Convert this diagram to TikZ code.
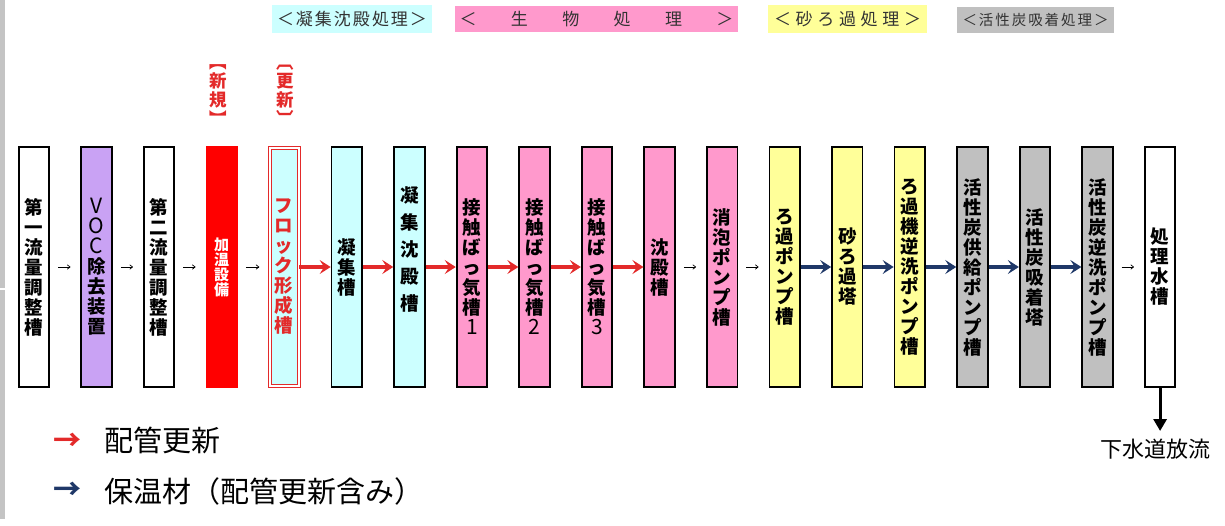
\documentclass[tikz,border=0pt]{standalone}
\usepackage{fontspec}
\newfontfamily\jp{Noto Sans CJK JP}
\usetikzlibrary{arrows.meta}
\definecolor{cyanbox}{HTML}{CCFFFF}
\definecolor{pinkbox}{HTML}{FF99CC}
\definecolor{yellowbox}{HTML}{FFFF99}
\definecolor{graybox}{HTML}{C0C0C0}
\definecolor{lavbox}{HTML}{C9A2F4}
\definecolor{arrred}{HTML}{E32A2A}
\definecolor{arrnavy}{HTML}{1F3868}
\definecolor{headtext}{HTML}{333333}
\definecolor{framegray}{HTML}{C4C4C4}
\newcommand{\lat}[1]{{\mdseries\fontsize{21}{20}\selectfont #1}}
\begin{document}
\begin{tikzpicture}[x=1pt,y=-1pt,
  box/.style={draw=black,line width=1.8pt,minimum width=30.5pt,minimum height=240pt,inner sep=0pt,align=center,font=\jp\bfseries\fontsize{18.5}{20}\selectfont},
  redbox/.style={box,draw=red,fill=red,text=white,font=\jp\bfseries\fontsize{15}{15}\selectfont},
  newbox/.style={box,draw=arrred,line width=0.9pt,double=white,double distance=1.8pt,fill=cyanbox,text=arrred,minimum width=29pt,minimum height=238pt},
  header/.style={inner sep=0pt,text=headtext,font=\jp\fontsize{17}{17}\selectfont},
  smallarr/.style={-{To[length=3.5pt,width=5pt]},line width=0.7pt,shorten <=8pt,shorten >=10pt},
  redarr/.style={draw=arrred,line width=3.2pt,-{Stealth[length=11pt,width=14pt,inset=4.5pt]}},
  navyarr/.style={draw=arrnavy,line width=3.2pt,-{Stealth[length=11pt,width=14pt,inset=4.5pt]}},
  downarr/.style={line width=3.2pt,-{Triangle[length=12pt,width=13pt]}},
  tag/.style={text=arrred,align=center,inner sep=0pt,font=\jp\bfseries\fontsize{17.5}{19}\selectfont},
  legend/.style={anchor=west,inner sep=0pt,font=\jp\fontsize{29}{30}\selectfont}
]
\useasboundingbox (0,0) rectangle (1225,525);
% left window frame
\fill[framegray] (0,0) rectangle (5,288);
\fill[framegray] (0,290) rectangle (5,519);

% section headers
\node[header,fill=cyanbox,minimum width=160pt,minimum height=28pt] (h1) at (352,19)
  {\makebox[150pt][s]{＜\hfill 凝\hfill 集\hfill 沈\hfill 殿\hfill 処\hfill 理\hfill ＞}};
\node[header,fill=pinkbox,minimum width=283pt,minimum height=26pt] (h2) at (596.5,19)
  {\makebox[274pt][s]{＜\hfill 生\hfill 物\hfill 処\hfill 理\hfill ＞}};
\node[header,fill=yellowbox,minimum width=159pt,minimum height=28pt] (h3) at (847.5,19)
  {\makebox[147pt][s]{＜\hfill 砂\hfill ろ\hfill 過\hfill 処\hfill 理\hfill ＞}};
\node[header,fill=graybox,minimum width=157pt,minimum height=26pt,font=\jp\fontsize{14.5}{15}\selectfont] (h4) at (1035.5,20)
  {\makebox[146pt][s]{＜\hfill 活\hfill 性\hfill 炭\hfill 吸\hfill 着\hfill 処\hfill 理\hfill ＞}};

% tags
\node[tag] (t1) at (218,95) {︻\\新\\規\\︼};
\node[tag] (t2) at (285,95) {︹\\更\\新\\︺};

% process boxes
\node[box,fill=white] (b1) at (34,267) {第\\一\\流\\量\\調\\整\\槽};
\node[box,fill=lavbox] (b2) at (96.6,267) {\lat{V}\\\lat{O}\\\lat{C}\\除\\去\\装\\置};
\node[box,fill=white] (b3) at (159.1,267) {第\\二\\流\\量\\調\\整\\槽};
\node[redbox] (b4) at (221.7,267) {加\\温\\設\\備};
\node[newbox] (b5) at (284.2,267) {フ\\ロ\\ッ\\ク\\形\\成\\槽};
\node[box,fill=cyanbox] (b6) at (346.8,267) {凝\\集\\槽};
\node[box,fill=cyanbox,font=\jp\bfseries\fontsize{18.5}{27}\selectfont] (b7) at (409.4,267) {凝\\集\\沈\\殿\\槽\rule[-37pt]{0pt}{0pt}};
\node[box,fill=pinkbox] (b8) at (471.9,267) {接\\触\\ば\\っ\\気\\槽\\\lat{1}};
\node[box,fill=pinkbox] (b9) at (534.5,267) {接\\触\\ば\\っ\\気\\槽\\\lat{2}};
\node[box,fill=pinkbox] (b10) at (597.0,267) {接\\触\\ば\\っ\\気\\槽\\\lat{3}};
\node[box,fill=pinkbox] (b11) at (659.6,267) {沈\\殿\\槽};
\node[box,fill=pinkbox] (b12) at (722.2,267) {消\\泡\\ポ\\ン\\プ\\槽};
\node[box,fill=yellowbox] (b13) at (784.7,267) {ろ\\過\\ポ\\ン\\プ\\槽};
\node[box,fill=yellowbox] (b14) at (847.3,267) {砂\\ろ\\過\\塔};
\node[box,fill=yellowbox] (b15) at (909.8,267) {ろ\\過\\機\\逆\\洗\\ポ\\ン\\プ\\槽};
\node[box,fill=graybox] (b16) at (972.4,267) {活\\性\\炭\\供\\給\\ポ\\ン\\プ\\槽};
\node[box,fill=graybox] (b17) at (1035.0,267) {活\\性\\炭\\吸\\着\\塔};
\node[box,fill=graybox] (b18) at (1097.5,267) {活\\性\\炭\\逆\\洗\\ポ\\ン\\プ\\槽};
\node[box,fill=white] (b19) at (1160.1,267) {処\\理\\水\\槽};

% connectors
\draw[smallarr] (b1) -- (b2);
\draw[smallarr] (b2) -- (b3);
\draw[smallarr] (b3) -- (b4);
\draw[smallarr] (b4) -- (b5);
\draw[redarr] (b5) -- (b6);
\draw[redarr] (b6) -- (b7);
\draw[redarr] (b7) -- (b8);
\draw[redarr] (b8) -- (b9);
\draw[redarr] (b9) -- (b10);
\draw[redarr] (b10) -- (b11);
\draw[smallarr] (b11) -- (b12);
\draw[smallarr] (b12) -- (b13);
\draw[navyarr] (b13) -- (b14);
\draw[navyarr] (b14) -- (b15);
\draw[navyarr] (b15) -- (b16);
\draw[navyarr] (b16) -- (b17);
\draw[navyarr] (b17) -- (b18);
\draw[smallarr] (b18) -- (b19);

% discharge
\coordinate (sewer) at (1160.1,431);
\draw[downarr] (b19) -- (sewer);
\node[inner sep=0pt,font=\jp\fontsize{22}{22}\selectfont] (out) at (1155,449) {下水道放流};

% legend
\node[inner sep=0pt,text=arrred,font=\jp\bfseries\fontsize{28}{28}\selectfont] (la1) at (67,442) {→};
\node[legend] (lt1) at (104,440) {配管更新};
\node[inner sep=0pt,text=arrnavy,font=\jp\bfseries\fontsize{28}{28}\selectfont] (la2) at (67,491) {→};
\node[legend] (lt2) at (104,491) {保温材（配管更新含み）};
\end{tikzpicture}
\end{document}
